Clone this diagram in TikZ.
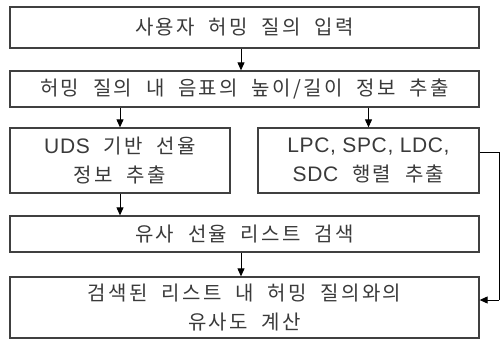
\documentclass[tikz,border=0pt]{standalone}
\usepackage{fontspec}
\setmainfont{Noto Sans CJK KR}[LetterSpace=12,WordSpace=2]
\newfontfamily\latf{Liberation Sans}[LetterSpace=3]
\newcommand\lat{\latf\fontsize{21}{29}\selectfont}
\usetikzlibrary{arrows.meta}
\definecolor{txt}{HTML}{3A3A3A}
\definecolor{edge}{HTML}{404040}
\begin{document}
\begin{tikzpicture}[x=1pt,y=-1pt,
  box/.style={draw=edge,line width=1.3pt,fill=white,text=txt,align=center,inner sep=0pt,
    font=\fontsize{20}{29}\selectfont},
  arr/.style={draw=black,line width=1pt,-{Triangle[length=8pt,width=7pt]}},
  ln/.style={draw=black,line width=1pt}]
\useasboundingbox (0,0) rectangle (500,340);
\fill[white] (0,0) rectangle (500,340);
\node[box,minimum width=469pt,minimum height=41pt] (b1) at (244.5,27.5) {사용자 허밍 질의 입력};
\node[box,minimum width=469pt,minimum height=36pt] (b2) at (244.5,89) {허밍 질의 내 음표의 높이/길이 정보 추출};
\node[box,minimum width=220pt,minimum height=65pt] (b3) at (120,160.5) {{\lat UDS} 기반 선율\\정보 추출};
\node[box,minimum width=221pt,minimum height=65pt] (b4) at (368.5,160.5) {{\lat LPC, SPC, LDC,}\\{\lat SDC} 행렬 추출};
\node[box,minimum width=469pt,minimum height=36pt] (b5) at (244.5,234) {유사 선율 리스트 검색};
\node[box,minimum width=469pt,minimum height=61pt] (b6) at (244.5,307.5) {검색된 리스트 내 허밍 질의와의\\유사도 계산};
\coordinate (m1) at (241,0);
\coordinate (r1) at (499,152);
\coordinate (r2) at (499,300);
\draw[arr] (b1.south -| m1) -- (b2.north -| m1);
\draw[arr] (b2.south -| b3) -- (b3.north);
\draw[arr] (b2.south -| b4) -- (b4.north);
\draw[arr] (b3.south) -- (b5.north -| b3);
\draw[arr] (b5.south -| m1) -- (b6.north -| m1);
\draw[ln] (b4.east |- r1) -- (r1) -- (r2);
\draw[arr] (r2) -- (b6.east |- r2);
\end{tikzpicture}
\end{document}
